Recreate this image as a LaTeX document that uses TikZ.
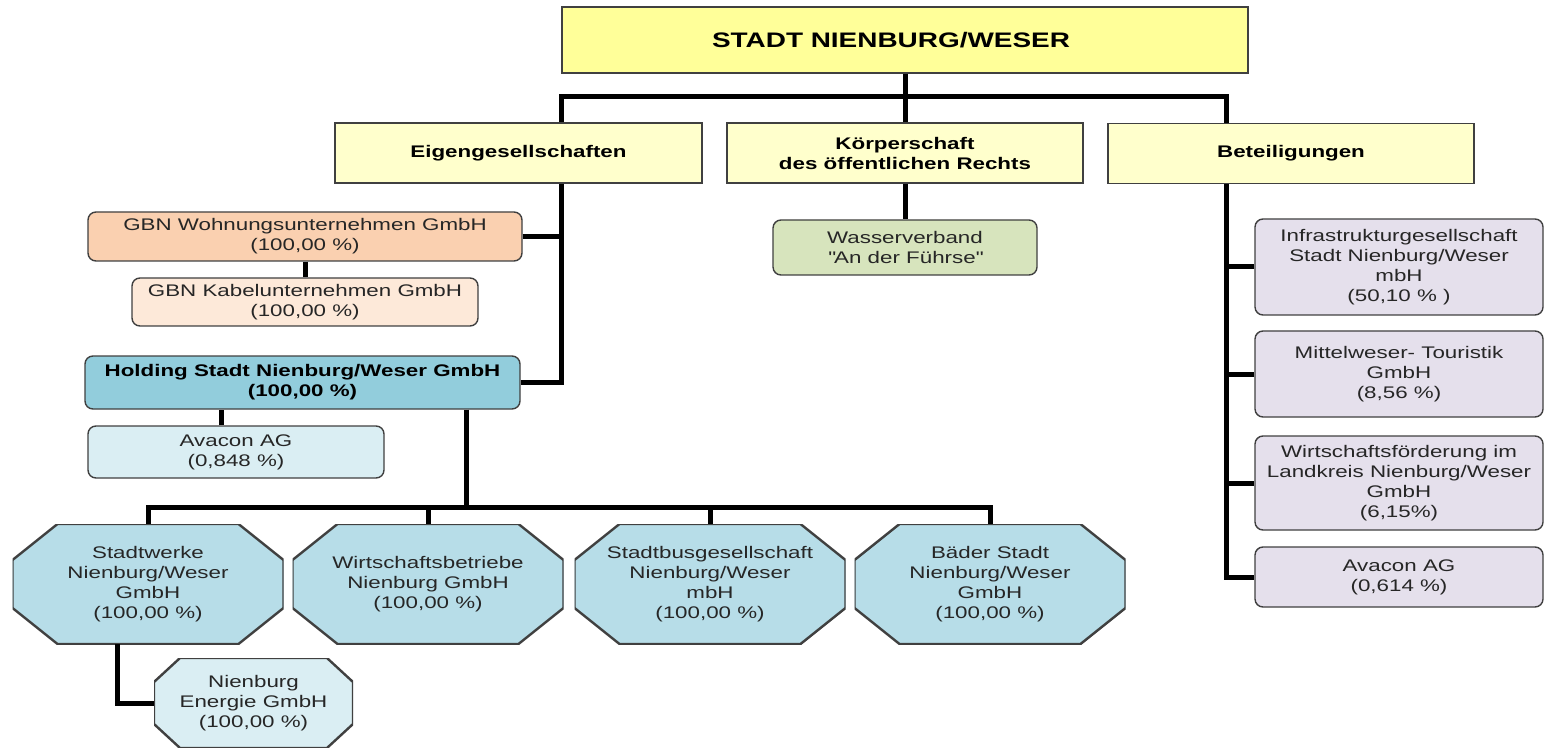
\documentclass[tikz,border=0pt]{standalone}
\usepackage{fontspec}
\setmainfont[FakeStretch=1.33]{Liberation Sans}
\usetikzlibrary{positioning}
\definecolor{boxline}{HTML}{404040}
\definecolor{topfill}{HTML}{FFFF99}
\definecolor{headfill}{HTML}{FFFFCC}
\definecolor{gbnfill}{HTML}{FAD0B0}
\definecolor{kabfill}{HTML}{FDE9D9}
\definecolor{holdfill}{HTML}{92CDDC}
\definecolor{lightblue}{HTML}{DAEEF3}
\definecolor{octfill}{HTML}{B7DDE8}
\definecolor{waterfill}{HTML}{D7E4BD}
\definecolor{betfill}{HTML}{E5E0EC}
\newcommand\orgfont{\fontsize{8.4pt}{10pt}\selectfont}
\tikzset{
  head/.style={draw=boxline,line width=0.7pt,fill=headfill,align=center,inner sep=1pt,
    font=\orgfont\bfseries,minimum height=30pt},
  firm/.style={draw=boxline,line width=0.7pt,rounded corners=4pt,align=center,inner sep=1pt,
    text=black!85,font=\orgfont},
  octo/.style n args={3}{align=center,inner sep=1pt,text=black!85,font=\orgfont,
    path picture={\filldraw[draw=boxline,line width=1.2pt,fill=#1]
      ([xshift=#2]path picture bounding box.north west) -- ([xshift=-#2]path picture bounding box.north east)
      -- ([yshift=-#3]path picture bounding box.north east) -- ([yshift=#3]path picture bounding box.south east)
      -- ([xshift=-#2]path picture bounding box.south east) -- ([xshift=#2]path picture bounding box.south west)
      -- ([yshift=#3]path picture bounding box.south west) -- ([yshift=-#3]path picture bounding box.north west)
      -- cycle;}},
  bigocto/.style={octo={octfill}{22.5pt}{18pt},minimum width=135.5pt,minimum height=60pt},
  link/.style={line width=2.5pt,line join=miter}
}

\begin{document}
\begin{tikzpicture}[x=0.5pt,y=-0.5pt]
  \useasboundingbox (0,0) rectangle (1545,748);
  \node[draw=boxline,line width=0.7pt,fill=topfill,minimum width=343pt,minimum height=33pt,
    font=\fontsize{10.5pt}{12.6pt}\selectfont\bfseries] (stadt) at (905,40) {STADT NIENBURG/WESER\hspace*{14pt}};

  \node[head,minimum width=183.5pt] (eigen)  at (518.5,153) {Eigengesellschaften};
  \node[head,minimum width=178pt]   (koerp)  at (905,153)   {Körperschaft\\des öffentlichen Rechts};
  \node[head,minimum width=183pt]   (beteil) at (1291,153.5) {Beteiligungen};

  \node[firm,fill=waterfill,minimum width=132pt,minimum height=27.5pt] (wasser) at (905,247.5)
    {Wasserverband\\\textquotedbl An der Führse\textquotedbl};

  \node[firm,fill=gbnfill,minimum width=217pt,minimum height=24.5pt] (gbnwohn) at (305,236.5)
    {GBN Wohnungsunternehmen GmbH\\(100,00 \%)};
  \node[firm,fill=kabfill,minimum width=173pt,minimum height=24pt] (gbnkabel) at (305,302)
    {GBN Kabelunternehmen GmbH\\(100,00 \%)};
  \node[firm,fill=holdfill,minimum width=217.5pt,minimum height=26.5pt,font=\orgfont\bfseries,text=black]
    (holding) at (302.5,382.5) {Holding Stadt Nienburg/Weser GmbH\\(100,00 \%)};
  \node[firm,fill=lightblue,minimum width=148pt,minimum height=26pt] (avaconL) at (236,452)
    {Avacon AG\\(0,848 \%)};

  \node[bigocto] (stadtwerke) at (148,584) {Stadtwerke\\Nienburg/Weser\\GmbH\\(100,00 \%)};
  \node[bigocto] (wibe)       at (428,584) {Wirtschaftsbetriebe\\Nienburg GmbH\\(100,00 \%)};
  \node[bigocto] (stadtbus)   at (710,584) {Stadtbusgesellschaft\\Nienburg/Weser\\mbH\\(100,00 \%)};
  \node[bigocto] (baeder)     at (990,584) {Bäder Stadt\\Nienburg/Weser\\GmbH\\(100,00 \%)};
  \node[octo={lightblue}{13pt}{12pt},minimum width=99.5pt,minimum height=45pt] (energie) at (253.5,703)
    {Nienburg\\Energie GmbH\\(100,00 \%)};

  \node[firm,fill=betfill,minimum width=144pt,minimum height=48pt] (infra) at (1399,267)
    {Infrastrukturgesellschaft\\Stadt Nienburg/Weser\\mbH\\(50,10 \% )};
  \node[firm,fill=betfill,minimum width=144pt,minimum height=43pt] (mittel) at (1399,374)
    {Mittelweser- Touristik\\GmbH\\(8,56 \%)};
  \node[firm,fill=betfill,minimum width=144pt,minimum height=47pt] (wifoe) at (1399,483)
    {Wirtschaftsförderung im\\Landkreis Nienburg/Weser\\GmbH\\(6,15\%)};
  \node[firm,fill=betfill,minimum width=144pt,minimum height=30pt] (avaconR) at (1399,577)
    {Avacon AG\\(0,614 \%)};

  \coordinate (busL) at (561,97);
  \coordinate (busR) at (1226,97);
  \coordinate (busB) at (466,507);

  \draw[link] (stadt.south) -- (koerp.north);
  \draw[link] (eigen.north -| busL) -- (busL) -- (busR) -- (beteil.north -| busR);
  \draw[link] (koerp.south) -- (wasser.north);
  \draw[link] (eigen.south -| busL) |- (holding.east);
  \draw[link] (gbnwohn.east) -- (gbnwohn.east -| busL);
  \draw[link] (gbnwohn.south) -- (gbnkabel.north);
  \draw[link] ([xshift=-7.5pt]avaconL.north) -- ([xshift=-7.5pt]avaconL.north |- holding.south);
  \draw[link] (holding.south -| busB) -- (busB);
  \draw[link] (stadtwerke.north) |- (baeder.north |- busB) -- (baeder.north);
  \draw[link] (wibe.north) -- (wibe.north |- busB);
  \draw[link] (stadtbus.north) -- (stadtbus.north |- busB);
  \draw[link] ([xshift=-15.5pt]stadtwerke.south) |- (energie.west);
  \draw[link] (beteil.south -| busR) |- (avaconR.west);
  \draw[link] (infra.west) -- (infra.west -| busR);
  \draw[link] (mittel.west) -- (mittel.west -| busR);
  \draw[link] (wifoe.west) -- (wifoe.west -| busR);
\end{tikzpicture}
\end{document}
